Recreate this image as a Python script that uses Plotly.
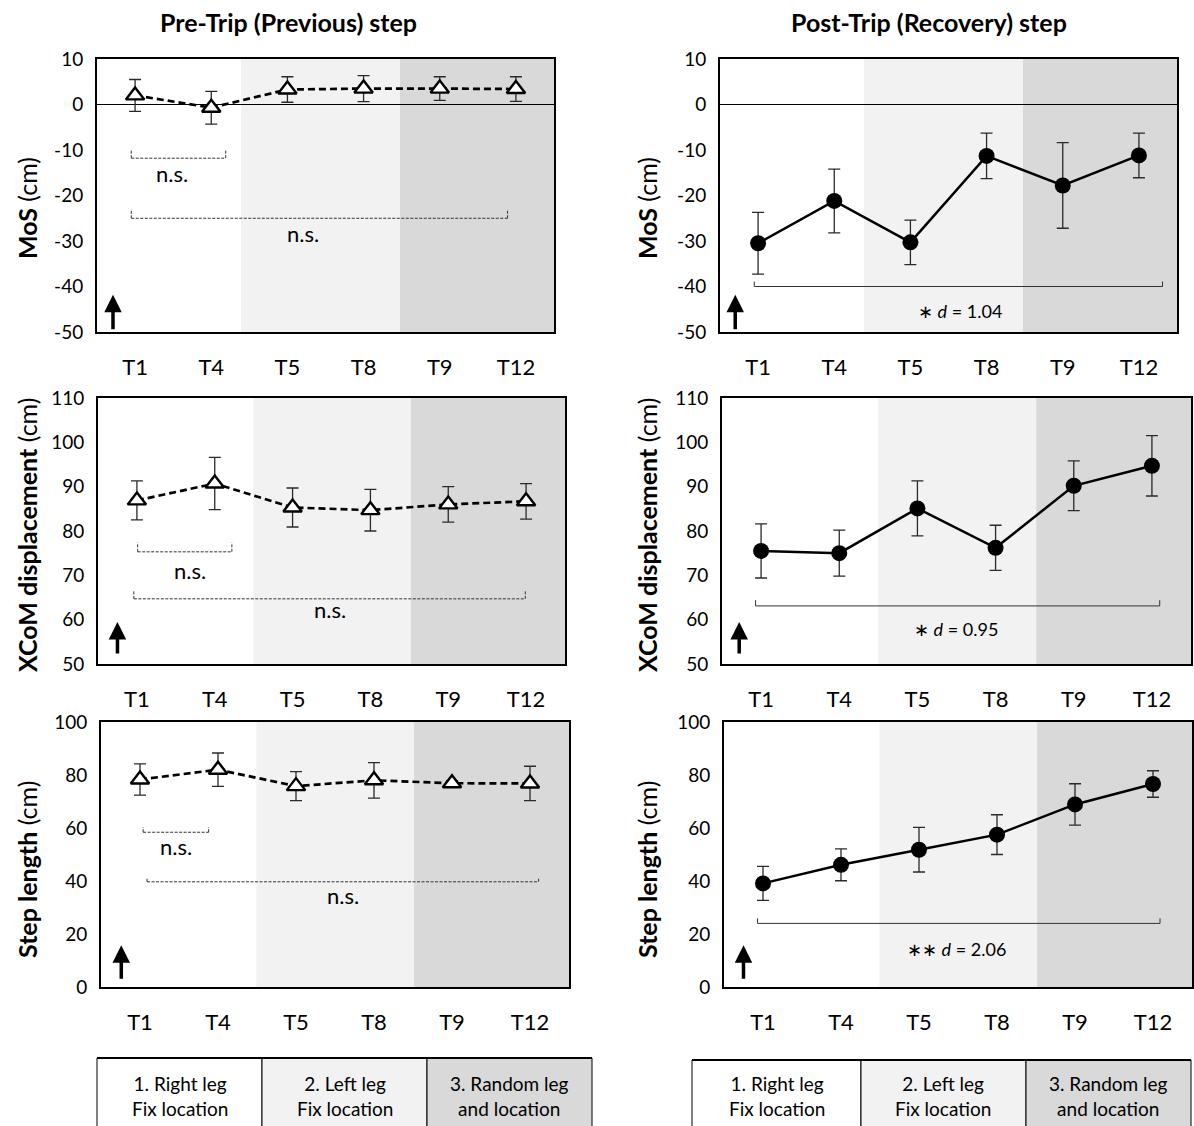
import plotly.graph_objects as go

# ---------------- data ----------------
categories = ["T1", "T4", "T5", "T8", "T9", "T12"]

mos_pre = [2.0, -0.7, 3.3, 3.5, 3.5, 3.4]
mos_pre_err = [3.5, 3.6, 2.8, 2.85, 2.6, 2.7]
mos_post = [-30.5, -21.2, -30.3, -11.3, -17.8, -11.2]
mos_post_err = [6.8, 7.0, 4.9, 5.0, 9.4, 4.9]

xcom_pre = [86.9, 90.7, 85.3, 84.7, 86.0, 86.7]
xcom_pre_err = [4.4, 5.9, 4.4, 4.7, 4.0, 4.0]
xcom_post = [75.5, 75.0, 85.1, 76.2, 90.2, 94.7]
xcom_post_err = [6.1, 5.2, 6.2, 5.1, 5.6, 6.8]

step_pre = [78.3, 82.0, 75.8, 78.0, 76.9, 76.8]
step_pre_err = [5.9, 6.3, 5.5, 6.7, 1.0, 6.5]
step_post = [39.1, 46.1, 51.8, 57.5, 68.9, 76.6]
step_post_err = [6.4, 6.0, 8.4, 7.5, 7.8, 5.0]

mos_ticks = [-50, -40, -30, -20, -10, 0, 10]
xcom_ticks = [50, 60, 70, 80, 90, 100, 110]
step_ticks = [0, 20, 40, 60, 80, 100]

y_titles = ["MoS", "XCoM displacement", "Step length"]
col_titles = ["Pre-Trip (Previous) step", "Post-Trip (Recovery) step"]
phase_labels = ["1. Right leg<br>Fix location", "2. Left leg<br>Fix location", "3. Random leg<br>and location"]
sig_texts = ["\u2217 <i>d</i> = 1.04", "\u2217 <i>d</i> = 0.95", "\u2217\u2217 <i>d</i> = 2.06"]

# ---------------- layout helpers ----------------
W, H = 1194, 1126
FONT = "Lato"
LIGHT = "#f2f2f2"
DARK = "#d9d9d9"


def px(x):
    return x / W


def py(y):
    return 1 - y / H


# panel pixel boxes: (left, right, top, bottom)
boxes = [
    (97, 554, 59, 332), (720, 1177, 59, 332),
    (98, 565, 398, 664), (722, 1191, 398, 664),
    (101, 569, 722, 987), (724, 1192, 722, 987),
]
shade_fracs = [(0.315, 0.663), (0.315, 0.663), (0.333, 0.670), (0.333, 0.670),
               (0.332, 0.669), (0.332, 0.669)]
tick_sets = [mos_ticks, mos_ticks, xcom_ticks, xcom_ticks, step_ticks, step_ticks]

series = [
    (mos_pre, mos_pre_err), (mos_post, mos_post_err),
    (xcom_pre, xcom_pre_err), (xcom_post, xcom_post_err),
    (step_pre, step_pre_err), (step_post, step_post_err),
]

xs = list(range(len(categories)))
fig = go.Figure()
shapes = []
annotations = []
layout = {}

for i, (vals, errs) in enumerate(series):
    n = i + 1
    xa = "x" if n == 1 else f"x{n}"
    ya = "y" if n == 1 else f"y{n}"
    pre = (i % 2 == 0)
    l, r, t, b = boxes[i]
    layout["xaxis" if n == 1 else f"xaxis{n}"] = dict(
        domain=[px(l), px(r)], anchor=ya, range=[-0.5, 5.5], automargin=False,
        tickmode="array", tickvals=xs, ticktext=categories,
        showgrid=False, zeroline=False, showline=True, mirror=True,
        linecolor="black", linewidth=2, ticks="",
        tickfont=dict(family=FONT, size=22, color="black"),
        ticklabelstandoff=15,
    )
    tks = tick_sets[i]
    layout["yaxis" if n == 1 else f"yaxis{n}"] = dict(
        domain=[py(b), py(t)], anchor=xa, range=[tks[0], tks[-1]], automargin=False,
        tickmode="array", tickvals=tks, ticktext=[str(v) for v in tks],
        showgrid=False, zeroline=(tks[0] < 0 < tks[-1]), zerolinecolor="black", zerolinewidth=1,
        showline=True, mirror=True, linecolor="black", linewidth=2, ticks="",
        tickfont=dict(family=FONT, size=19, color="black"),
        ticklabelstandoff=8,
    )
    f1, f2 = shade_fracs[i]
    shapes.append(dict(type="rect", xref=f"{xa} domain", yref=f"{ya} domain",
                       x0=f1, x1=f2, y0=0, y1=1, fillcolor=LIGHT, line_width=0, layer="below"))
    shapes.append(dict(type="rect", xref=f"{xa} domain", yref=f"{ya} domain",
                       x0=f2, x1=1, y0=0, y1=1, fillcolor=DARK, line_width=0, layer="below"))

    if pre:
        fig.add_trace(go.Scatter(
            x=xs, y=vals, xaxis=xa, yaxis=ya, mode="lines+markers",
            line=dict(color="black", width=2.7, dash="7px,4px"),
            marker=dict(symbol="triangle-up", size=16, color="white",
                        line=dict(color="black", width=2.4)),
            error_y=dict(type="data", array=errs, color="#2a2a2a", thickness=1.3, width=6),
            showlegend=False, hoverinfo="skip"))
    else:
        fig.add_trace(go.Scatter(
            x=xs, y=vals, xaxis=xa, yaxis=ya, mode="lines+markers",
            line=dict(color="black", width=2.5),
            marker=dict(symbol="circle", size=16, color="black"),
            error_y=dict(type="data", array=errs, color="#2a2a2a", thickness=1.3, width=6),
            showlegend=False, hoverinfo="skip"))

    # y-axis title (bold name + (cm))
    cx = 27 if pre else 647
    cy = [208, 535, 870][i // 2]
    annotations.append(dict(
        text=f"<b>{y_titles[i // 2]}</b> (cm)", x=px(cx), y=py(cy), xref="paper", yref="paper",
        textangle=-90, showarrow=False, xanchor="center", yanchor="middle",
        font=dict(family=FONT, size=25, color="black")))

# ---------------- brackets / significance ----------------
def bracket(n, x0, x1, y, yend, dashed):
    xa = "x" if n == 1 else f"x{n}"
    ya = "y" if n == 1 else f"y{n}"
    st = dict(color="#333333", width=1, dash="3px,1.5px" if dashed else "solid")
    shapes.append(dict(type="line", xref=xa, yref=ya, x0=x0, x1=x1, y0=y, y1=y, line=st))
    shapes.append(dict(type="line", xref=xa, yref=ya, x0=x0, x1=x0, y0=y, y1=yend, line=st))
    shapes.append(dict(type="line", xref=xa, yref=ya, x0=x1, x1=x1, y0=y, y1=yend, line=st))


def label(n, x, y, text, size=22):
    xa = "x" if n == 1 else f"x{n}"
    ya = "y" if n == 1 else f"y{n}"
    annotations.append(dict(text=text, x=x, y=y, xref=xa, yref=ya, showarrow=False,
                            xanchor="center", yanchor="middle",
                            font=dict(family=FONT, size=size, color="black")))


def arrow(n, x, y_head, length):
    xa = "x" if n == 1 else f"x{n}"
    ya = "y" if n == 1 else f"y{n}"
    annotations.append(dict(text="", x=x, y=y_head, xref=xa, yref=ya, ax=0, ay=length,
                            showarrow=True, arrowhead=2, arrowsize=1, arrowwidth=3.5,
                            arrowcolor="black"))


# pre panels
bracket(1, -0.05, 1.19, -11.8, -9.8, True)
label(1, 0.48, -15.1, "n.s.")
bracket(1, -0.05, 4.89, -25.0, -23.0, True)
label(1, 2.2, -28.3, "n.s.")

bracket(3, 0.01, 1.22, 75.3, 77.4, True)
label(3, 0.68, 71.2, "n.s.")
bracket(3, -0.04, 4.99, 64.7, 66.7, True)
label(3, 2.48, 62.2, "n.s.")

bracket(5, 0.04, 0.88, 58.4, 60.3, True)
label(5, 0.46, 52.9, "n.s.")
bracket(5, 0.09, 5.11, 39.7, 41.4, True)
label(5, 2.6, 34.7, "n.s.")

# post panels
bracket(2, -0.05, 5.31, -40.0, -38.9, False)
label(2, 2.65, -45.3, sig_texts[0], 18)
bracket(4, -0.07, 5.10, 63.1, 64.4, False)
label(4, 2.49, 58.0, sig_texts[1], 18)
bracket(6, -0.07, 5.09, 24.0, 25.9, False)
label(6, 2.48, 14.2, sig_texts[2], 18)

# arrows
arrow(1, -0.29, -41.8, 36)
arrow(2, -0.30, -41.8, 36)
arrow(3, -0.25, 59.5, 33)
arrow(4, -0.28, 59.5, 33)
arrow(5, -0.24, 15.8, 35)
arrow(6, -0.25, 15.8, 35)

# column titles
annotations.append(dict(text=f"<b>{col_titles[0]}</b>", x=px(288), y=py(22), xref="paper", yref="paper",
                        showarrow=False, xanchor="center", yanchor="middle",
                        font=dict(family=FONT, size=25, color="black")))
annotations.append(dict(text=f"<b>{col_titles[1]}</b>", x=px(929), y=py(22), xref="paper", yref="paper",
                        showarrow=False, xanchor="center", yanchor="middle",
                        font=dict(family=FONT, size=25, color="black")))

# ---------------- phase boxes at the bottom ----------------
fills = ["white", LIGHT, DARK]
for edges, top in [([97, 262, 427, 592], 1058), ([692, 861, 1026, 1191], 1060)]:
    for k in range(3):
        shapes.append(dict(type="rect", xref="paper", yref="paper",
                           x0=px(edges[k]), x1=px(edges[k + 1]), y0=py(H + 5), y1=py(top),
                           fillcolor=fills[k], line=dict(color="black", width=1)))
        annotations.append(dict(text=phase_labels[k], x=px((edges[k] + edges[k + 1]) / 2),
                                y=py(1096), xref="paper", yref="paper", showarrow=False,
                                xanchor="center", yanchor="middle",
                                font=dict(family=FONT, size=19, color="black")))
    shapes.append(dict(type="line", xref="paper", yref="paper", x0=px(edges[0]), x1=px(edges[3]),
                       y0=py(top), y1=py(top), line=dict(color="black", width=2)))

fig.update_layout(
    width=W, height=H, margin=dict(l=0, r=0, t=0, b=0, pad=0, autoexpand=False),
    paper_bgcolor="white", plot_bgcolor="rgba(0,0,0,0)",
    shapes=shapes, annotations=annotations, showlegend=False,
    font=dict(family=FONT, color="black"),
    **layout,
)

fig.write_html("out.html")
